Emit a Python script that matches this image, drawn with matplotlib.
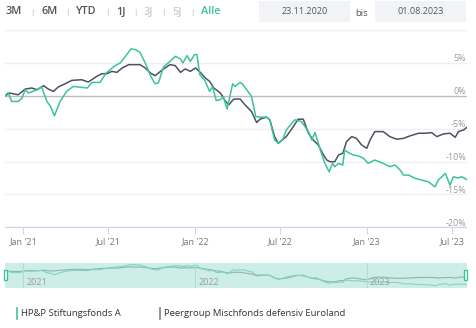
import numpy as np
import pandas as pd
import matplotlib
matplotlib.use('Agg')
import matplotlib.pyplot as plt
import matplotlib.dates as mdates
from matplotlib.patches import Rectangle

plt.rcParams['font.family'] = ['Open Sans', 'DejaVu Sans']

# HP&P Stiftungsfonds A (performance in %)
fund_dates = ['2020-11-23', '2020-11-30', '2020-12-07', '2020-12-21', '2020-12-29', '2021-01-05',
              '2021-01-12', '2021-01-30', '2021-02-09', '2021-02-20', '2021-02-28', '2021-03-08',
              '2021-03-20', '2021-04-03', '2021-04-17', '2021-05-17', '2021-05-27', '2021-06-13',
              '2021-06-26', '2021-07-15', '2021-07-26', '2021-08-06', '2021-08-18', '2021-08-27',
              '2021-09-06', '2021-09-17', '2021-09-29', '2021-10-08', '2021-10-15', '2021-10-26',
              '2021-11-09', '2021-11-20', '2021-12-01', '2021-12-06', '2021-12-15', '2021-12-22',
              '2021-12-31', '2022-01-05', '2022-01-11', '2022-01-21', '2022-02-01', '2022-02-07',
              '2022-02-15', '2022-02-24', '2022-03-02', '2022-03-10', '2022-03-22', '2022-03-27',
              '2022-04-07', '2022-04-13', '2022-05-01', '2022-05-10', '2022-05-19', '2022-06-02',
              '2022-06-09', '2022-06-19', '2022-06-27', '2022-07-06', '2022-07-14', '2022-08-01',
              '2022-08-15', '2022-08-30', '2022-09-06', '2022-09-13', '2022-09-20', '2022-09-29',
              '2022-10-04', '2022-10-13', '2022-10-20', '2022-10-25', '2022-11-02', '2022-11-11',
              '2022-11-15', '2022-11-23', '2022-12-03', '2022-12-15', '2022-12-25', '2023-01-04',
              '2023-01-18', '2023-02-05', '2023-02-19', '2023-03-02', '2023-03-13', '2023-03-20',
              '2023-03-31', '2023-04-14', '2023-04-28', '2023-05-12', '2023-05-26', '2023-06-02',
              '2023-06-17', '2023-06-27', '2023-07-04', '2023-07-14', '2023-07-22', '2023-08-01']
fund_values = [0.0, 0.5, -0.87, -0.87, -0.35, 0.92,
               0.41, 0.92, 1.33, -0.87, -1.63, -3.05,
               -0.87, 0.66, 1.42, 1.18, 2.03, 2.03,
               3.47, 4.58, 4.99, 6.0, 7.13, 7.02,
               6.61, 4.99, 2.95, 1.83, 1.94, 4.38,
               5.24, 6.0, 5.6, 4.99, 6.11, 5.24,
               6.26, 6.26, 3.2, 2.44, 0.66, 1.42,
               -0.72, -0.61, -0.1, -2.03, 1.83, 1.42,
               2.03, 1.68, -0.1, -3.16, -3.25, -3.25,
               -3.66, -6.72, -7.22, -6.72, -5.19, -3.66,
               -3.92, -5.45, -6.72, -5.6, -7.22, -9.27,
               -10.28, -11.56, -10.28, -10.79, -10.28, -10.53,
               -8.24, -8.65, -9.0, -9.16, -9.51, -10.28,
               -9.77, -10.28, -10.79, -10.53, -11.3, -12.06,
               -12.06, -12.56, -12.82, -13.08, -13.85, -12.82,
               -11.8, -13.59, -12.32, -12.5, -12.32, -12.72]

# Peergroup Mischfonds defensiv Euroland
peer_dates = ['2020-11-23', '2020-12-03', '2020-12-21', '2021-01-05', '2021-01-19', '2021-01-30',
              '2021-02-13', '2021-02-23', '2021-03-06', '2021-03-16', '2021-03-31', '2021-04-14',
              '2021-05-05', '2021-05-19', '2021-06-06', '2021-06-17', '2021-06-28', '2021-07-08',
              '2021-07-19', '2021-07-30', '2021-08-13', '2021-09-06', '2021-09-17', '2021-09-28',
              '2021-10-08', '2021-10-26', '2021-11-09', '2021-11-20', '2021-12-01', '2021-12-11',
              '2021-12-22', '2022-01-02', '2022-01-12', '2022-01-23', '2022-02-01', '2022-02-10',
              '2022-02-24', '2022-03-07', '2022-03-14', '2022-03-24', '2022-04-07', '2022-04-17',
              '2022-05-01', '2022-05-12', '2022-05-19', '2022-06-02', '2022-06-09', '2022-06-19',
              '2022-06-27', '2022-07-14', '2022-07-29', '2022-08-08', '2022-08-19', '2022-08-30',
              '2022-09-09', '2022-09-20', '2022-10-01', '2022-10-08', '2022-10-15', '2022-10-25',
              '2022-11-02', '2022-11-11', '2022-11-19', '2022-11-30', '2022-12-10', '2022-12-21',
              '2023-01-01', '2023-01-08', '2023-01-18', '2023-02-05', '2023-02-19', '2023-03-06',
              '2023-03-20', '2023-04-03', '2023-04-21', '2023-05-05', '2023-05-19', '2023-05-30',
              '2023-06-13', '2023-06-27', '2023-07-08', '2023-07-15', '2023-07-26', '2023-08-01']
peer_values = [0.0, 0.41, 0.15, 1.02, 1.18, 0.92,
               1.53, 1.02, 0.66, 1.33, 1.83, 2.34,
               2.44, 2.09, 2.95, 3.36, 3.36, 3.71,
               3.56, 4.23, 4.73, 4.73, 4.23, 3.47,
               3.05, 4.08, 4.73, 4.58, 3.56, 4.08,
               3.71, 4.23, 3.56, 2.7, 2.18, 1.18,
               0.41, -0.87, -1.37, -0.5, -0.5, -1.37,
               -2.4, -4.07, -3.56, -3.25, -3.66, -6.21,
               -7.22, -6.21, -4.68, -3.56, -3.56, -5.7,
               -6.72, -7.48, -9.0, -9.77, -10.03, -10.03,
               -9.0, -8.75, -6.97, -6.21, -6.47, -7.48,
               -7.99, -6.72, -5.45, -5.45, -6.21, -6.61,
               -6.47, -6.1, -5.7, -5.7, -5.6, -6.21,
               -5.8, -5.7, -6.31, -5.45, -5.19, -4.84]

y_ticks = [-20, -15, -10, -5, 0, 5, 10]
x_ticks = ['2021-01-01', '2021-07-01', '2022-01-01', '2022-07-01', '2023-01-01', '2023-07-01']
x_labels = ["Jan '21", "Jul '21", "Jan '22", "Jul '22", "Jan '23", "Jul '23"]
nav_years = ['2021-01-01', '2022-01-01', '2023-01-01']
nav_labels = ['2021', '2022', '2023']
buttons = ['3M', '6M', 'YTD', '1J', '3J', '5J', 'Alle']
start_label, end_label = '23.11.2020', '01.08.2023'
names = ['HP&P Stiftungsfonds A', 'Peergroup Mischfonds defensiv Euroland']

TEAL = '#3cc39d'
DARK = '#4c5263'

fd = pd.to_datetime(fund_dates)
pd_ = pd.to_datetime(peer_dates)
x0, x1 = pd.Timestamp('2020-11-23'), pd.Timestamp('2023-08-01')

W, H = 476, 328
fig = plt.figure(figsize=(W / 100, H / 100), dpi=100)
fig.patch.set_facecolor('white')


def box(x, y, w, h):
    # figure coordinates from pixels (top-left origin)
    return [x / W, 1 - (y + h) / H, w / W, h / H]


# main chart
ax = fig.add_axes(box(5, 30, 461.5, 197.3))
ax.plot(pd_, peer_values, color=DARK, lw=1.1, zorder=3)
ax.plot(fd, fund_values, color=TEAL, lw=1.1, zorder=4)
ax.set_xlim(x0, x1)
ax.set_ylim(-20, 10)
for v in y_ticks:
    ax.axhline(v, color='#bdbdbd' if v == 0 else '#efefef', lw=1.0, zorder=1)
    if v < 10:
        ax.text(1.0, v + 0.65, f'{v}%', transform=ax.get_yaxis_transform(),
                ha='right', va='center', fontsize=6.5, color='#9a9a9a')
for s in ['top', 'right', 'left']:
    ax.spines[s].set_visible(False)
ax.spines['bottom'].set_color('#ccd6eb')
ax.set_yticks([])
ax.set_xticks(pd.to_datetime(x_ticks))
ax.set_xticklabels(x_labels, fontsize=6.5, color='#777777')
ax.tick_params(axis='x', color='#ccd6eb', length=5, pad=2)
ax.set_facecolor('white')

# navigator
nav = fig.add_axes(box(5, 262.7, 462, 25.6))
nav.set_facecolor('#cdeee6')
nav.plot(pd_, peer_values, color='#8fb3ad', lw=0.8)
nav.plot(fd, fund_values, color='#7fd6bd', lw=0.8)
nav.set_xlim(x0, x1)
nav.set_ylim(-16.5, 9)
for d, lab in zip(pd.to_datetime(nav_years), nav_labels):
    nav.axvline(d, color='#b3dcd1', lw=0.8)
    nav.text(d + pd.Timedelta(days=6), -15.3, lab, fontsize=6.5, color='#9a9a9a', va='bottom')
nav.set_xticks([])
nav.set_yticks([])
for s in nav.spines.values():
    s.set_visible(False)
for hx in [5, 465]:
    fig.patches.append(Rectangle(((hx - 1.5) / W, 1 - 280 / H), 3.5 / W, 10 / H,
                                 transform=fig.transFigure, facecolor='white',
                                 edgecolor=TEAL, lw=1.0, zorder=10))

# legend
for lx, col, name in [(17, TEAL, names[0]), (160, '#80848f', names[1])]:
    fig.add_artist(plt.Line2D([lx / W, lx / W], [1 - 319 / H, 1 - 308 / H], color=col, lw=1.2))
    fig.text((lx + 4) / W, 1 - 313.5 / H, name, fontsize=6.8, color='#333333', va='center')

# range buttons
bx = [6, 41, 76, 116, 144, 172, 201]
for i, (b, x) in enumerate(zip(buttons, bx)):
    col = '#cccccc' if b in ('3J', '5J') else ('#3cc39d' if b == 'Alle' else '#555555')
    fig.text(x / W, 1 - 12 / H, b, fontsize=7.8, color=col, va='center', fontweight='semibold')
    if i < len(buttons) - 1:
        fig.text((bx[i + 1] - 8.5) / W, 1 - 12 / H, '|', fontsize=5.5, color='#aaaaaa',
                 va='center', ha='center')

# date boxes
for bxl, lab in [(259, start_label), (375, end_label)]:
    fig.patches.append(Rectangle((bxl / W, 1 - 22 / H), 91 / W, 21 / H,
                                 transform=fig.transFigure, facecolor='#f1f3f6',
                                 edgecolor='none'))
    fig.text((bxl + 45.5) / W, 1 - 12 / H, lab, fontsize=6.5, color='#555555',
             ha='center', va='center')
fig.text(362 / W, 1 - 14 / H, 'bis', fontsize=6.8, color='#555555', ha='center', va='center')

fig.savefig('out.png', dpi=100)
